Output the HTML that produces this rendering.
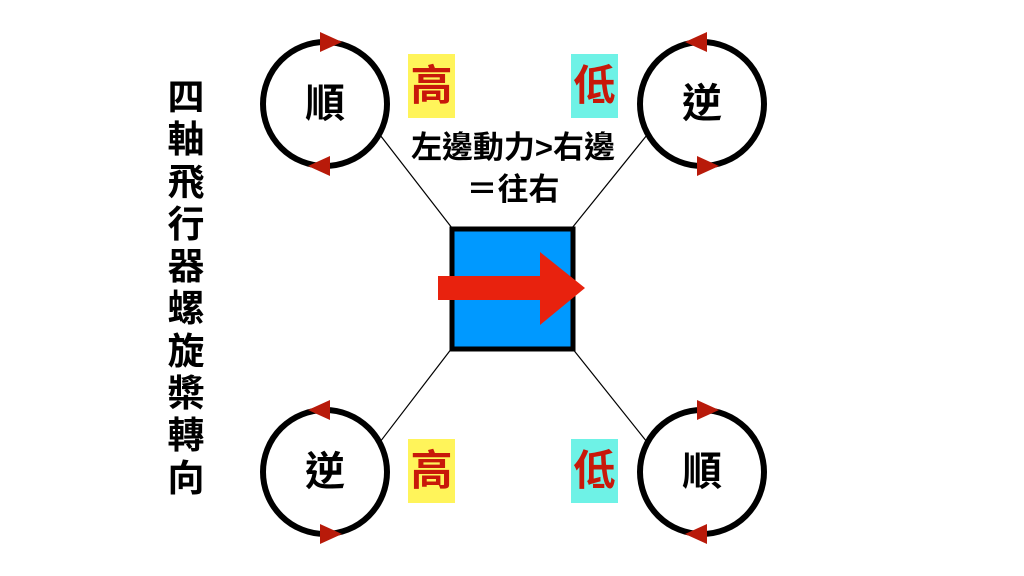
<!DOCTYPE html>
<html><head><meta charset="utf-8"><style>
body{margin:0;width:1024px;height:576px;background:#fff;overflow:hidden;position:relative;font-family:"Liberation Sans","Noto Sans CJK TC",sans-serif;}
.t{position:absolute;font-weight:bold;}
.lb{position:absolute;width:47px;height:64px;font-size:42px;color:#C8180A;text-align:center;line-height:64px;font-weight:bold;}
</style></head><body>
<svg width="1024" height="576" style="position:absolute;left:0;top:0">
<g stroke="#000" stroke-width="1.2">
<line x1="380" y1="135" x2="452" y2="228"/>
<line x1="647" y1="135" x2="572" y2="228"/>
<line x1="380" y1="442" x2="452" y2="348"/>
<line x1="647" y1="442" x2="572" y2="348"/>
</g>
<g fill="none" stroke="#000" stroke-width="6">
<circle cx="325" cy="104" r="62"/>
<circle cx="702" cy="104" r="62"/>
<circle cx="325" cy="472" r="62"/>
<circle cx="702" cy="472" r="62"/>
</g>
<g fill="#B81A0A">
<polygon points="320,32 342,42 320,52"/><polygon points="330,156 308,166 330,176"/>
<polygon points="707,32 685,42 707,52"/><polygon points="697,156 719,166 697,176"/>
<polygon points="330,400 308,410 330,420"/><polygon points="320,524 342,534 320,544"/>
<polygon points="697,400 719,410 697,420"/><polygon points="707,524 685,534 707,544"/>
</g>
<rect x="452" y="229" width="121" height="120" fill="#0099FF" stroke="#000" stroke-width="5"/>
<polygon points="438,276 540,276 540,252 585,288 540,325 540,300 438,300" fill="#E8220E"/>
</svg>
<div class="t" style="left:163px;top:77px;width:46px;font-size:37px;line-height:42.3px;text-align:center;">四<br>軸<br>飛<br>行<br>器<br>螺<br>旋<br>槳<br>轉<br>向</div>
<div class="t" style="left:295px;top:80px;width:60px;text-align:center;font-size:40px;line-height:48px;">順</div>
<div class="t" style="left:672px;top:80px;width:60px;text-align:center;font-size:40px;line-height:48px;">逆</div>
<div class="t" style="left:295px;top:448px;width:60px;text-align:center;font-size:40px;line-height:48px;">逆</div>
<div class="t" style="left:672px;top:448px;width:60px;text-align:center;font-size:40px;line-height:48px;">順</div>
<div class="lb" style="left:408px;top:54px;background:#FFF45A;">高</div>
<div class="lb" style="left:571px;top:54px;background:#6EF2E6;">低</div>
<div class="lb" style="left:408px;top:439px;background:#FFF45A;">高</div>
<div class="lb" style="left:571px;top:439px;background:#6EF2E6;">低</div>
<div class="t" style="left:380px;top:127px;width:266px;text-align:center;font-size:31px;line-height:42px;">左邊動力&gt;右邊<br>＝往右</div>
</body></html>
